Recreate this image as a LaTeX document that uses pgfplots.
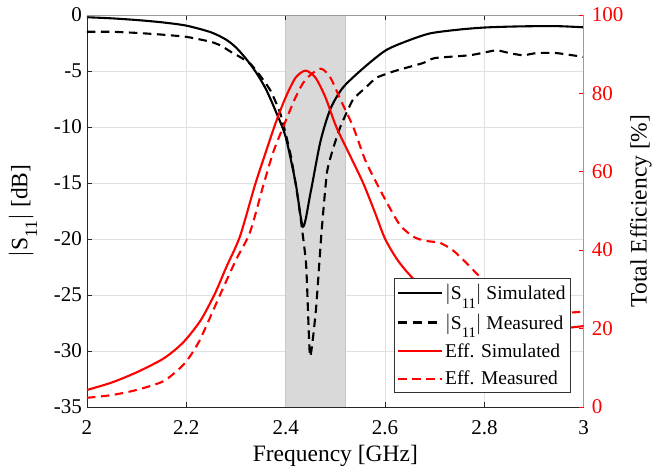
\documentclass[border=0pt]{standalone}
\usepackage{fontspec}
\setmainfont{Liberation Serif}
\usepackage{pgfplots}
\pgfplotsset{compat=1.18}
\usepackage{pgfplotstable}

\definecolor{effred}{RGB}{255,0,0}
\definecolor{rightax}{RGB}{192,140,140}
\definecolor{bandgray}{RGB}{217,217,217}
\definecolor{gridgray}{RGB}{224,224,224}

\newcommand{\ticksize}{\fontsize{21}{24}\selectfont}
\newcommand{\labsize}{\fontsize{23.5}{27}\selectfont}
\newcommand{\legsize}{\fontsize{19.5}{22}\selectfont}
\newcommand{\sub}[1]{\raisebox{-0.42em}{\fontsize{0.75em}{0.75em}\selectfont #1}}

% S11 simulated (dB)
\pgfplotstableread{
f s
2.00 -0.20
2.05 -0.30
2.10 -0.45
2.15 -0.65
2.20 -0.95
2.25 -1.55
2.28 -2.20
2.30 -2.90
2.32 -3.90
2.34 -5.10
2.36 -6.60
2.38 -8.60
2.40 -10.90
2.42 -15.00
2.435 -18.90
2.45 -15.90
2.47 -11.30
2.49 -8.40
2.515 -6.50
2.555 -4.80
2.60 -3.20
2.64 -2.40
2.69 -1.65
2.75 -1.30
2.80 -1.12
2.85 -1.04
2.90 -1.00
2.95 -1.00
3.00 -1.10
}\sim

% S11 measured (dB)
\pgfplotstableread{
f s
2.00 -1.50
2.05 -1.50
2.10 -1.60
2.15 -1.75
2.20 -1.95
2.25 -2.40
2.27 -2.75
2.29 -3.30
2.31 -3.80
2.33 -4.40
2.35 -5.50
2.37 -6.80
2.39 -8.90
2.41 -12.50
2.425 -16.50
2.441 -22.20
2.449 -30.50
2.461 -26.30
2.472 -19.50
2.483 -14.10
2.495 -12.00
2.51 -10.00
2.535 -7.60
2.563 -6.40
2.583 -5.60
2.62 -5.00
2.676 -4.30
2.70 -3.85
2.77 -3.60
2.80 -3.35
2.825 -3.15
2.85 -3.40
2.878 -3.60
2.905 -3.40
2.945 -3.40
3.00 -3.75
}\meas

% Total efficiency simulated (%)
\pgfplotstableread{
f e
2.00 4.3
2.05 6.2
2.10 8.8
2.15 12.0
2.177 14.5
2.20 17.3
2.23 22.3
2.258 29.0
2.28 35.5
2.308 43.5
2.338 56.5
2.36 65.0
2.38 72.5
2.40 79.0
2.42 84.0
2.44 85.8
2.46 84.0
2.48 79.0
2.502 71.4
2.53 64.0
2.556 57.1
2.58 49.5
2.60 42.9
2.625 37.5
2.653 33.2
2.70 27.5
2.75 24.3
2.80 22.3
2.85 21.0
2.90 20.3
2.95 20.0
3.00 20.6
}\effsim

% Total efficiency measured (%)
\pgfplotstableread{
f e
2.00 2.3
2.05 3.0
2.10 4.3
2.15 6.3
2.175 8.5
2.20 11.6
2.227 17.0
2.268 28.6
2.30 37.5
2.328 44.5
2.355 56.5
2.375 65.0
2.395 71.4
2.42 79.0
2.44 83.5
2.47 86.3
2.49 84.0
2.51 78.5
2.536 71.4
2.56 63.0
2.583 57.1
2.60 53.0
2.63 46.4
2.66 43.2
2.69 42.2
2.71 41.9
2.736 40.0
2.764 36.7
2.79 33.3
2.82 30.0
2.85 27.5
2.90 25.2
2.95 24.0
3.00 24.3
}\effmeas

\begin{document}
\begin{tikzpicture}
\pgfplotsset{
  every axis/.append style={
    scale only axis, width=497pt, height=392pt,
    at={(0,0)}, anchor=south west,
    xmin=2, xmax=3,
    font=\ticksize,
    /pgf/number format/assume math mode=true,
    tick align=inside, major tick length=5pt,
    tick style={line width=0.6pt, black!85},
  },
}
% left axis: |S11|
\begin{axis}[
  axis x line*=bottom, axis y line*=left,
  axis line style={black!85, line width=0.6pt},
  ymin=-35, ymax=0,
  ytick={-35,-30,-25,-20,-15,-10,-5,0},
  xtick={2,2.2,2.4,2.6,2.8,3},
  xticklabels={2,2.2,2.4,2.6,2.8,3},
  grid=major, grid style={gridgray, line width=0.6pt},
  xticklabel style={inner sep=0pt, yshift=-14pt},
  yticklabel style={inner sep=0pt, xshift=-5pt},
  xlabel={Frequency [GHz]},
  ylabel={$|$S\sub{11}$|$ [dB]},
  xlabel style={font=\labsize, at={(axis description cs:0.5,-0.125)}, anchor=center},
  ylabel style={font=\labsize, at={(axis description cs:-0.129,0.5)}, anchor=center},
]
\addplot[draw=black!22, fill=bandgray, line width=0.5pt] coordinates {(2.4,-35) (2.4,0) (2.52,0) (2.52,-35)} -- cycle;
\addplot[black, line width=2.1pt, smooth, tension=0.45] table[x=f, y=s] {\sim};
\addplot[black, line width=2.1pt, smooth, tension=0.3, dash pattern=on 8.5pt off 5.5pt] table[x=f, y=s] {\meas};
\end{axis}
% top box line
\begin{axis}[
  axis x line*=top, axis y line=none,
  x axis line style={black!40, line width=0.6pt},
  ymin=0, ymax=1,
  xtick={2,2.2,2.4,2.6,2.8,3}, xticklabels={},
]
\end{axis}
% right axis: efficiency
\begin{axis}[
  axis x line=none, axis y line*=right,
  y axis line style={rightax, line width=0.6pt},
  ymin=0, ymax=100,
  ytick={0,20,40,60,80,100},
  ytick style={effred, line width=0.6pt},
  yticklabel style={effred, inner sep=0pt, xshift=8pt},
  ylabel={Total Efficiency [\%]},
  ylabel style={font=\labsize, black, at={(axis description cs:1.115,0.5)}, anchor=center},
  legend style={at={(0.974,0.036)}, anchor=south east, font=\legsize,
    draw=black!80, fill=white, line width=0.6pt,
    inner xsep=3pt, inner ysep=4pt, row sep=8.5pt},
  legend cell align=left,
  legend image code/.code={\draw[#1] (0pt,0pt) -- (44pt,0pt);},
]
\addlegendimage{black, line width=2.1pt}
\addlegendentry{$|$S\sub{11}$|$ Simulated}
\addlegendimage{black, line width=2.1pt, dash pattern=on 9pt off 6pt}
\addlegendentry{$|$S\sub{11}$|$ Measured}
\addplot[effred, line width=2.1pt, smooth, tension=0.45] table[x=f, y=e] {\effsim};
\addlegendentry{Eff. Simulated}
\addplot[effred, line width=2.1pt, smooth, tension=0.45, dash pattern=on 8.5pt off 5.5pt] table[x=f, y=e] {\effmeas};
\addlegendentry{Eff. Measured}
\end{axis}
\path (-87pt,-66pt) rectangle (568pt,407pt);
\end{tikzpicture}
\end{document}
